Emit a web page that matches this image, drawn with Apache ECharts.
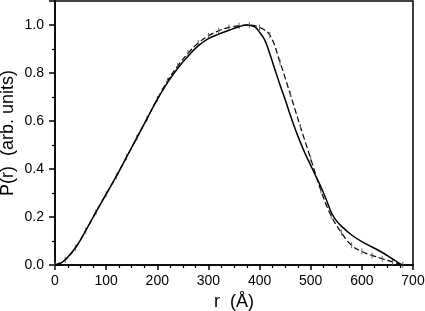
<!DOCTYPE html>
<html>
<head>
<meta charset="utf-8">
<script src="https://cdn.jsdelivr.net/npm/echarts@6/dist/echarts.min.js"></script>
<style>
  html, body { margin: 0; padding: 0; background: #fff; }
  #chart { width: 425px; height: 311px; }
</style>
</head>
<body>
<div id="chart"></div>
<script>
// solid curve: r (Å) and P(r)
const rSolid = [0, 10, 20, 30, 40, 50, 60, 80, 100, 120, 140, 160, 180, 200, 220, 240, 260, 280, 300, 320, 340, 360, 375, 390, 400, 410, 420, 430, 440, 450, 460, 470, 480, 490, 500, 510, 520, 530, 540, 550, 560, 580, 600, 620, 640, 660, 675, 680]
const pSolid = [0, 0.006, 0.022, 0.045, 0.072, 0.105, 0.143, 0.22, 0.295, 0.37, 0.45, 0.53, 0.61, 0.69, 0.76, 0.82, 0.87, 0.913, 0.943, 0.962, 0.978, 0.993, 1.0, 0.993, 0.97, 0.938, 0.88, 0.815, 0.75, 0.69, 0.625, 0.565, 0.51, 0.46, 0.415, 0.37, 0.325, 0.275, 0.22, 0.185, 0.162, 0.125, 0.097, 0.075, 0.052, 0.025, 0.005, 0]

// dashed curve with error bars
const rDashed = [0, 20, 40, 60, 80, 100, 120, 140, 160, 180, 200, 220, 240, 260, 280, 300, 320, 340, 360, 380, 400, 420, 440, 460, 480, 500, 520, 540, 560, 580, 600, 620, 640, 660, 680]
const pDashed = [0, 0.022, 0.072, 0.143, 0.22, 0.295, 0.37, 0.45, 0.53, 0.61, 0.692, 0.767, 0.83, 0.882, 0.925, 0.955, 0.976, 0.99, 0.997, 1.0, 0.99, 0.958, 0.845, 0.712, 0.575, 0.443, 0.31, 0.205, 0.135, 0.082, 0.056, 0.04, 0.026, 0.013, 0]

const xTicks = [0, 100, 200, 300, 400, 500, 600, 700]
const yTicks = [0.0, 0.2, 0.4, 0.6, 0.8, 1.0]

const font = 'Liberation Sans, Arial, sans-serif'
const chart = echarts.init(document.getElementById('chart'))

const option = {
  animation: false,
  backgroundColor: '#fff',
  grid: {
    left: 55,
    right: 12,
    top: 1,
    bottom: 46,
    outerBoundsMode: 'none',
    show: true,
    borderColor: '#000',
    borderWidth: 1.5
  },
  xAxis: {
    type: 'value',
    min: xTicks[0],
    max: xTicks[xTicks.length - 1],
    interval: 100,
    name: 'r  (Å)',
    nameLocation: 'middle',
    nameGap: 24,
    nameTextStyle: { fontFamily: font, fontSize: 18, color: '#000' },
    axisLine: { lineStyle: { color: '#000', width: 1.5 } },
    axisTick: { length: 5, lineStyle: { color: '#000', width: 1.5 } },
    minorTick: { show: true, splitNumber: 4, length: 3, lineStyle: { color: '#000', width: 1.2 } },
    splitLine: { show: false },
    axisLabel: { fontFamily: font, fontSize: 14, color: '#000', margin: 9 }
  },
  yAxis: {
    type: 'value',
    min: 0,
    max: 1.1,
    interval: 0.2,
    name: 'P(r)  (arb. units)',
    nameLocation: 'middle',
    nameGap: 38,
    nameMoveOverlap: false,
    nameTextStyle: { fontFamily: font, fontSize: 18, color: '#000' },
    axisLine: { show: true, lineStyle: { color: '#000', width: 1.5 } },
    axisTick: { length: 6, lineStyle: { color: '#000', width: 1.5 } },
    minorTick: { show: true, splitNumber: 2, length: 3, lineStyle: { color: '#000', width: 1.2 } },
    splitLine: { show: false },
    axisLabel: {
      fontFamily: font, fontSize: 14, color: '#000', margin: 11,
      showMaxLabel: false,
      formatter: v => yTicks.some(t => Math.abs(t - v) < 1e-6) ? v.toFixed(1) : ''
    }
  },
  series: [
    {
      type: 'line',
      smooth: 0.4,
      showSymbol: false,
      data: rSolid.map((r, i) => [r, pSolid[i]]),
      lineStyle: { color: '#000', width: 1.5 },
      z: 3
    },
    {
      type: 'line',
      smooth: 0.4,
      symbol: 'rect',
      symbolSize: [1, 6],
      showSymbol: true,
      itemStyle: { color: '#666' },
      data: rDashed.map((r, i) => [r, pDashed[i]]),
      lineStyle: { color: '#000', width: 1.2, type: [6, 3] },
      z: 2
    }
  ]
}
chart.setOption(option)
</script>
</body>
</html>
